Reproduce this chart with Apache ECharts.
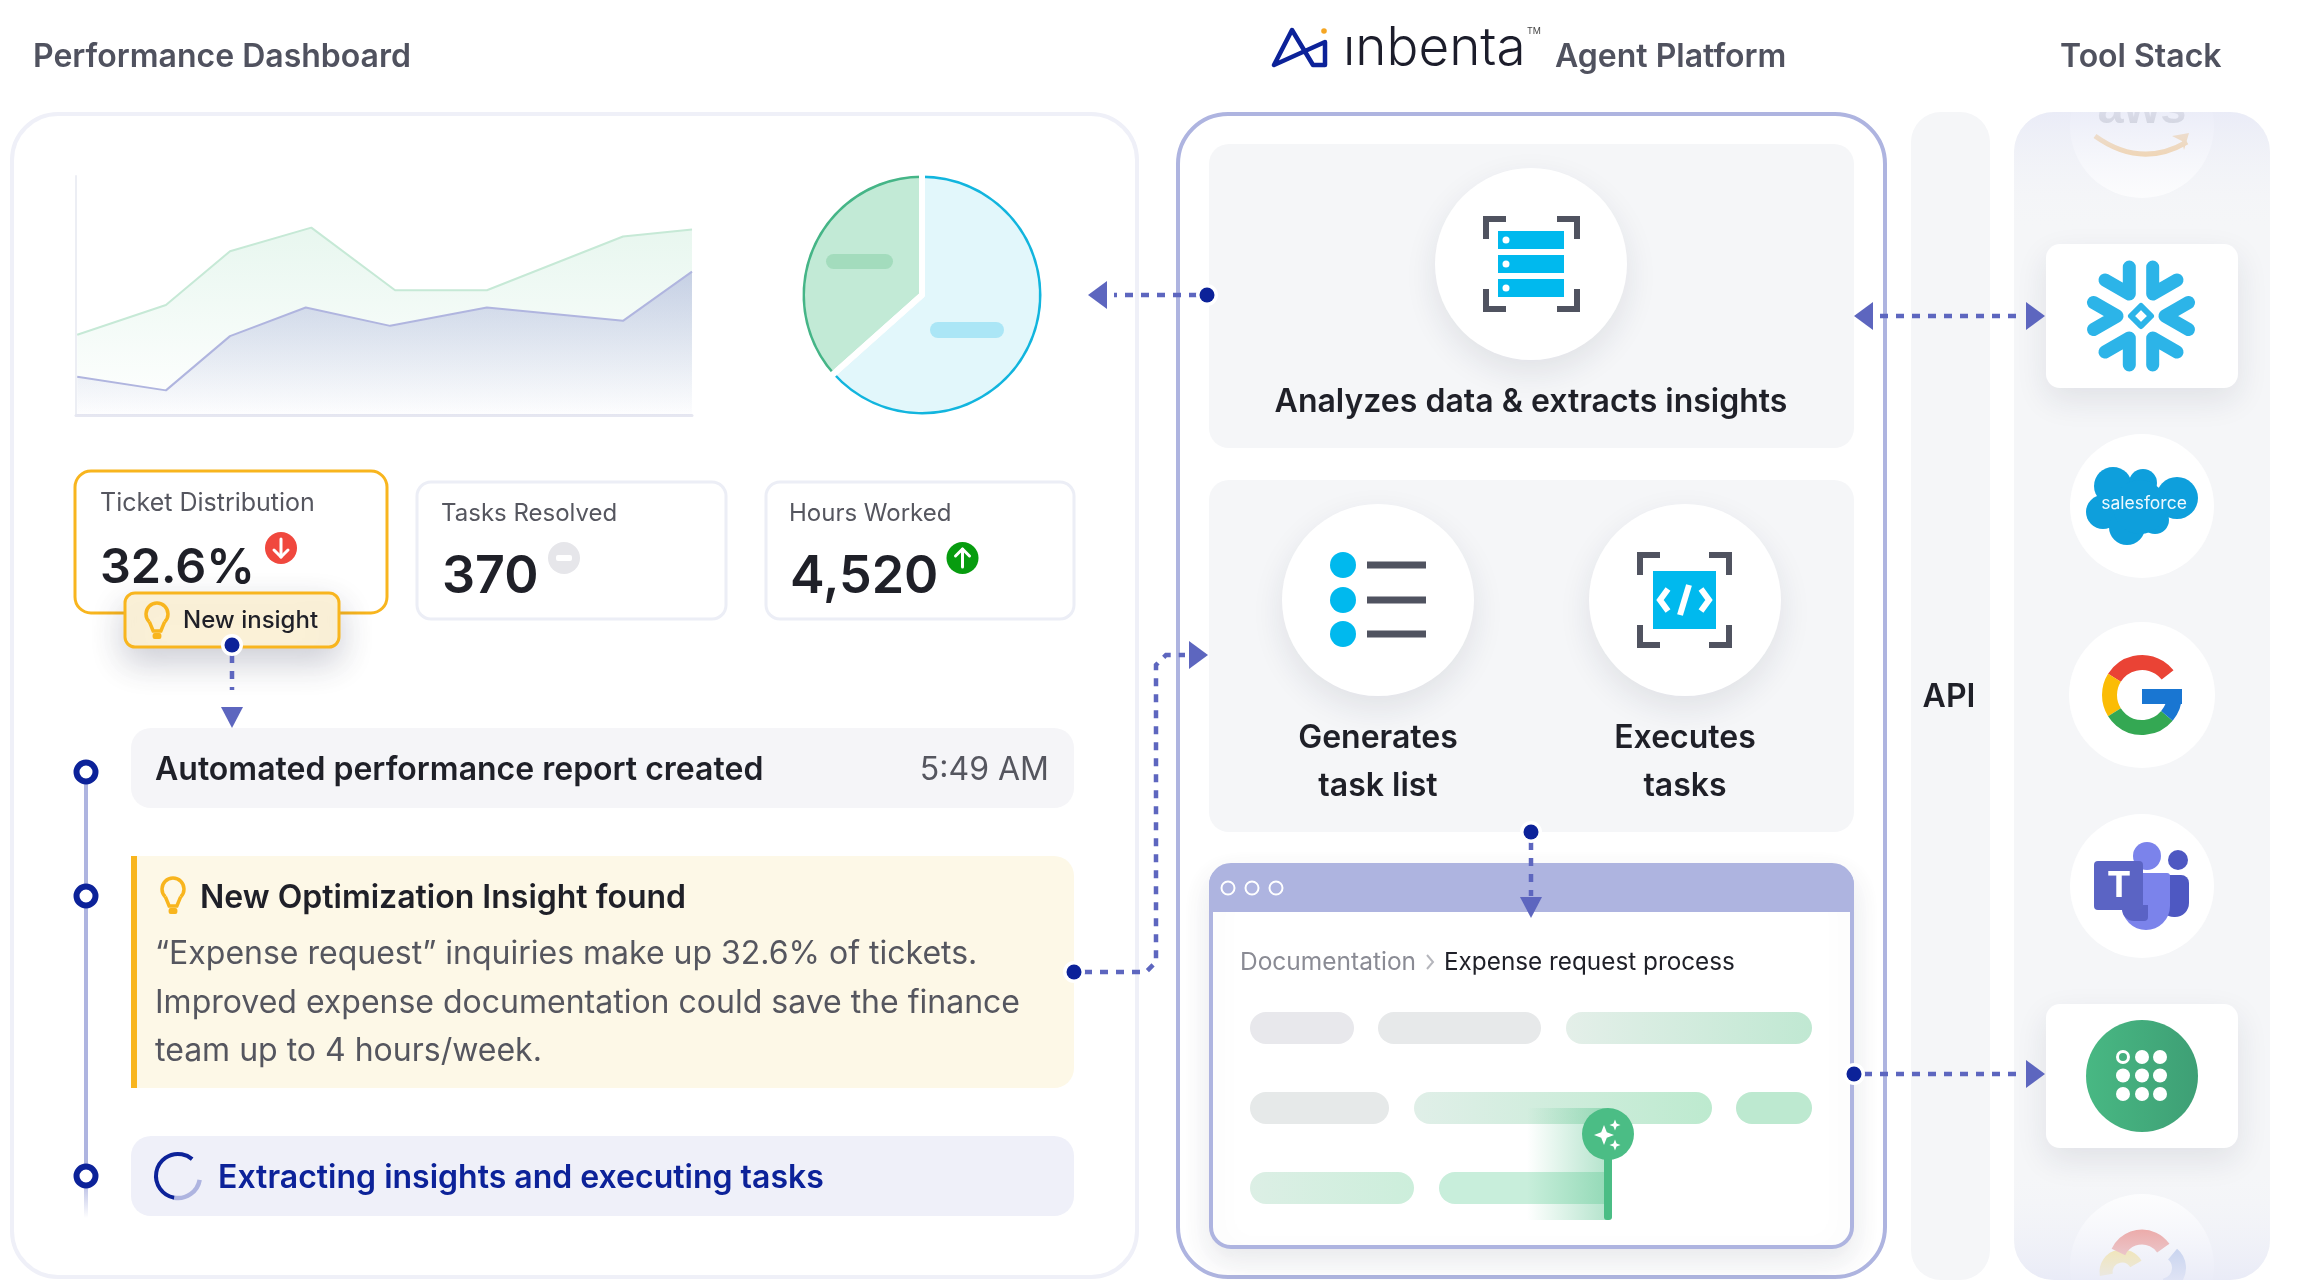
<!DOCTYPE html>
<html><head><meta charset="utf-8">
<style>html,body{margin:0;padding:0;background:#fff}#c{width:2304px;height:1280px}</style>
<script src="https://cdn.jsdelivr.net/npm/echarts@6/dist/echarts.min.js"></script>
</head><body><div id="c"></div>
<script>
// ---- data ----
const areaGreenX = [0.2, 14.6, 25, 38.2, 51.8, 66.7, 88.8, 100];
const areaGreenY = [33.6, 46, 68.5, 78.4, 52.2, 52.2, 74.7, 77.6];
const areaPurpleX = [0.2, 14.6, 25, 37.3, 51, 66.7, 88.8, 100];
const areaPurpleY = [16, 10.3, 33, 45, 37.3, 45, 39.4, 60];
const pieShares = [63.4, 36.6];
const statLabels = ['Ticket Distribution', 'Tasks Resolved', 'Hours Worked'];
const statValues = ['32.6%', '370', '4,520'];
const insightLines = ['\u201CExpense request\u201D inquiries make up 32.6% of tickets.',
  'Improved expense documentation could save the finance', 'team up to 4 hours/week.'];

const NAVY='#0c2299', DASH='#5d66bf', LAV='#aeb4e0', INK='#1f2028', GREY='#55565f', PANEL='#f5f6f8', AMBER='#f8b51e', SKY='#00b9ee', STEEL='#505360', MINT='#4bbd85';
const els=[];
function add(e){e.silent=true; if(e.z===undefined) e.z=3+els.length; els.push(e); return e;}
function rect(x,y,w,h,r,fill,extra){return add({type:'rect',shape:{x,y,width:w,height:h,r},style:Object.assign({fill},extra||{})});}
function circ(cx,cy,r,fill,extra){return add({type:'circle',shape:{cx,cy,r},style:Object.assign({fill},extra||{})});}
function poly(points,stroke,w,extra){return add({type:'polyline',shape:{points},style:Object.assign({fill:'none',stroke,lineWidth:w},extra||{})});}
function gon(points,fill,extra){return add({type:'polygon',shape:{points},style:Object.assign({fill},extra||{})});}
function arc(cx,cy,r,a,b,stroke,w,extra){return add({type:'arc',shape:{cx,cy,r,startAngle:a*Math.PI/180,endAngle:b*Math.PI/180,clockwise:true},style:Object.assign({fill:'none',stroke,lineWidth:w},extra||{})});}
function txt(text,x,y,size,weight,fill,align,family,extra){return add({type:'text',style:Object.assign({text,x,y:y+2.5,fontSize:size,fontWeight:weight,fill,align:align||'left',verticalAlign:'middle',fontFamily:family||'Inter'},extra||{})});}
const hgrad=(a,b)=>({type:'linear',x:0,y:0,x2:1,y2:0,colorStops:[{offset:0,color:a},{offset:1,color:b}]});
const vgrad=(a,b)=>({type:'linear',x:0,y:0,x2:0,y2:1,colorStops:[{offset:0,color:a},{offset:1,color:b}]});
const softShadow={shadowBlur:32,shadowColor:'rgba(30,35,70,0.10)',shadowOffsetY:12};
function dot(x,y){circ(x,y,11,'#fff');circ(x,y,7.5,NAVY);}
function dashLine(points){poly(points,DASH,4.5,{lineDash:[8,8]});}
function arrowL(x,y){gon([[x,y],[x+19,y-14],[x+19,y+14]],DASH);}
function arrowR(x,y){gon([[x,y],[x-19,y-14],[x-19,y+14]],DASH);}
function arrowD(x,y){gon([[x,y],[x-11,y-21],[x+11,y-21]],DASH);}
function bulb(cx,cy,s,c){
  arc(cx,cy-3,s,135,45,c,3.5);
  poly([[cx-s*0.7,cy-3+s*0.7],[cx-s*0.35,cy+s+3],[cx+s*0.35,cy+s+3],[cx+s*0.7,cy-3+s*0.7]],c,3.5);
  rect(cx-s*0.4,cy+s+5,s*0.8,6,2,c);
}
function corners(x0,y0,x1,y1,len,w,c){
  poly([[x0,y0+len],[x0,y0],[x0+len,y0]],c,w,{lineJoin:'miter'});
  poly([[x1-len,y0],[x1,y0],[x1,y0+len]],c,w,{lineJoin:'miter'});
  poly([[x0,y1-len],[x0,y1],[x0+len,y1]],c,w,{lineJoin:'miter'});
  poly([[x1-len,y1],[x1,y1],[x1,y1-len]],c,w,{lineJoin:'miter'});
}

// ---- left panel ----
add({type:'rect',z:0,shape:{x:12,y:114,width:1125,height:1163,r:46},style:{fill:'#fff',stroke:'#eff0f8',lineWidth:4}});
rect(826,254,67,15,7.5,'#a3dcbd');
rect(930,322,74,16,8,'#abe6f6');

// stat cards
rect(75,471,312,142,16,'#fff',{stroke:AMBER,lineWidth:3});
rect(417,482,309,137,14,'#fff',{stroke:'#eceef6',lineWidth:3});
rect(766,482,308,137,14,'#fff',{stroke:'#eceef6',lineWidth:3});
txt(statLabels[0],100,501,25,400,GREY);
txt(statLabels[1],441,511,24,400,GREY);
txt(statLabels[2],789,511,24,400,GREY);
txt(statValues[0],100,566,48.5,600,INK);
txt(statValues[1],442,575,52,600,INK);
txt(statValues[2],790,575,52,600,INK);
// change badges
circ(281,548,16,'#f0483e');
poly([[281,539],[281,557]],'#fff',3,{lineCap:'round'});poly([[274,550],[281,557],[288,550]],'#fff',3,{lineCap:'round',lineJoin:'round'});
circ(564,558,16,'#e6e6ea');rect(556,555,16,6,2,'#fff');
circ(962.5,558,16,'#079c0f');
poly([[962.5,549],[962.5,567]],'#fff',3,{lineCap:'round'});poly([[955.5,556],[962.5,549],[969.5,556]],'#fff',3,{lineCap:'round',lineJoin:'round'});
// new insight tag
rect(125,593,214,54,10,'#fdf3d9',{stroke:AMBER,lineWidth:3,shadowBlur:34,shadowColor:'rgba(30,35,70,0.22)',shadowOffsetY:14});
bulb(157,617,11,AMBER);
txt('New insight',183,618,24,500,INK);
dashLine([[232,655],[232,690]]);arrowD(232,728);
dot(232,645);

// timeline
add({type:'rect',shape:{x:84,y:783,width:4,height:395},style:{fill:LAV}});
add({type:'rect',shape:{x:84,y:1178,width:4,height:40},style:{fill:vgrad(LAV,'rgba(174,180,224,0)')}});
[772,896,1176].forEach(y=>{circ(86,y,9.5,'#fff',{stroke:NAVY,lineWidth:6});});
rect(131,728,943,80,20,'#f5f5f8');
txt('Automated performance report created',155,768,32,600,INK);
txt('5:49 AM',1049,768,32,400,GREY,'right');
rect(131,856,943,232,[0,20,20,0],'#fdf8e7');
rect(131,856,6,232,0,AMBER);
bulb(173,892,11,AMBER);
txt('New Optimization Insight found',200,896,32,600,INK);
insightLines.forEach((l,i)=>txt(l,155,952+i*48.5,32,400,GREY));
rect(131,1136,943,80,20,'#eff0f9');
arc(178,1176,22,10,100,LAV,4.5);
arc(178,1176,22,100,310,NAVY,4);
txt('Extracting insights and executing tasks',218,1176,32,600,NAVY);

// ---- middle panel ----
rect(1178,114,707,1163,50,'#fff',{stroke:LAV,lineWidth:4});
// api + tool columns
rect(1911,112,79,1168,30,PANEL);
rect(2014,112,256,1168,40,PANEL);
txt('API',1949,695,32,600,INK,'center');

rect(1209,144,645,304,20,PANEL);
circ(1531,264,96,'#fff',softShadow);
corners(1486,219,1577,309,20,6,STEEL);
[231,255,279].forEach(y=>{rect(1498,y,66,18,0,SKY);circ(1506,y+9,3.5,'#fff');});
txt('Analyzes data & extracts insights',1531,400,32,600,INK,'center');

rect(1209,480,645,352,20,PANEL);
circ(1378,600,96,'#fff',softShadow);
circ(1685,600,96,'#fff',softShadow);
[565,600,634].forEach(y=>{circ(1343,y,13,SKY);rect(1367,y-3.5,59,7,0,STEEL);});
corners(1640,555,1729,645,20,6,STEEL);
rect(1653,571,63,58,0,SKY);
poly([[1668,589],[1660,600],[1668,611]],'#fff',6,{lineJoin:'miter'});
poly([[1701,589],[1709,600],[1701,611]],'#fff',6,{lineJoin:'miter'});
poly([[1689,585],[1680,615]],'#fff',6);
txt('Generates',1378,736,32,600,INK,'center');
txt('task list',1378,784,32,600,INK,'center');
txt('Executes',1685,736,32,600,INK,'center');
txt('tasks',1685,784,32,600,INK,'center');

// doc window
rect(1211,865,641,382,20,'#fff',{stroke:LAV,lineWidth:4,shadowBlur:30,shadowColor:'rgba(30,35,70,0.10)',shadowOffsetY:12});
rect(1209,865,645,47,[20,20,0,0],LAV);
[1228,1252,1276].forEach(x=>circ(x,888,6.5,'none',{stroke:'#fff',lineWidth:2}));
txt('Documentation',1240,960,24.5,400,'#8a8b94');
poly([[1427,955],[1433,962],[1427,969]],'#b5b6bc',2);
txt('Expense request process',1444,960,24.3,400,INK);
rect(1250,1012,104,32,16,'#e8e8ec');
rect(1378,1012,163,32,16,'#e7e9ea');
rect(1566,1012,246,32,16,hgrad('#e4efe9','#c0e8d2'));
rect(1250,1092,139,32,16,'#e6e9e9');
rect(1414,1092,298,32,16,hgrad('#e0efe8','#bdeacf'));
rect(1736,1092,76,32,16,'#bde9d0');
rect(1250,1172,164,32,16,hgrad('#dcefe5','#cceedb'));
rect(1439,1172,170,32,[16,0,0,16],'#c8eedb');
rect(1527,1108,81,112,0,hgrad('rgba(75,189,133,0)','rgba(75,189,133,0.42)'));
rect(1604,1150,8,70,3,MINT);
circ(1608,1134,26,MINT);
function spark(cx,cy,s){gon([[cx,cy-s],[cx+s*0.28,cy-s*0.28],[cx+s,cy],[cx+s*0.28,cy+s*0.28],[cx,cy+s],[cx-s*0.28,cy+s*0.28],[cx-s,cy],[cx-s*0.28,cy-s*0.28]],'#fff');}
spark(1604,1135,10);spark(1615,1125,5.5);spark(1615,1145,5.5);

// ---- tools ----
// aws
circ(2142,126,72,'#fff');
txt('aws',2142,108,47,700,'#8b8e98','center','Liberation Sans');
add({type:'bezierCurve',shape:{x1:2095,y1:136,x2:2187,y2:142,cpx1:2141,cpy1:169},style:{fill:'none',stroke:'#f2b96c',lineWidth:5}});
gon([[2172,136],[2189,133],[2184,150],[2182,141]],'#f2b96c');
rect(2040,40,210,72,0,'#fff');
rect(2014,112,256,120,[40,40,0,0],vgrad('rgba(232,234,247,0.85)','rgba(245,246,248,0)'));
// snowflake
rect(2046,244,192,144,14,'#fff',softShadow);
const SNOW='#2cb4e8', SX=2141, SY=316;
const P=(dx,dy)=>[SX+dx,SY+dy];
[[1,1],[-1,1],[1,-1],[-1,-1]].forEach(s=>{
  poly([P(s[0]*11.7,s[1]*49),P(s[0]*11.7,s[1]*22),P(s[0]*36,s[1]*36)],SNOW,13,{lineCap:'round',lineJoin:'round'});
});
[-1,1].forEach(s=>{
  poly([P(s*47.5,-13.5),P(s*24,0),P(s*47.5,13.5)],SNOW,13,{lineCap:'round',lineJoin:'round'});
});
gon([P(0,-10),P(10,0),P(0,10),P(-10,0)],'#fff',{stroke:SNOW,lineWidth:6,lineJoin:'round'});
// salesforce
circ(2142,506,72,'#fff');
[[2113,486,19],[2143,483,14],[2177,498,21],[2103,512,17],[2127,527,18],[2155,520,14],[2140,507,27]].forEach(c=>circ(c[0],c[1],c[2],'#0e9fdc'));
txt('salesforce',2144,501,17.5,400,'#eef9ff','center','Inter');
// google
circ(2142,695,73,'#fff');
arc(2142,695,32.5,-148,-38,'#ea4335',15);
arc(2142,695,32.5,148,212,'#fbbc05',15);
arc(2142,695,32.5,40,148,'#34a853',15);
arc(2142,695,32.5,0,40,'#1976d2',15);
rect(2142,689,40,15,0,'#1976d2');
// teams
circ(2142,886,72,'#fff');
circ(2178,860,10,'#4e58c2');
rect(2160,875,29,42,[3,8,14,14],'#4e58c2');
circ(2147,856,14,'#7b83eb');
rect(2122,873,48,57,[3,3,24,24],'#7b83eb');
rect(2122,905,26,16,[0,0,4,12],'#5a62c5');
rect(2094,861,49,49,4,'#5b64c4');
txt('T',2119,884,36,700,'#fff','center');
// green app
rect(2046,1004,192,144,14,'#fff',softShadow);
circ(2142,1076,56,hgrad('#48b883','#3e9f75'));
[2123,2142,2160].forEach((x,i)=>[1057,1075.5,1094].forEach((y,j)=>{
  if(i===0&&j===0) circ(x,y,5.5,'none',{stroke:'#fff',lineWidth:3}); else circ(x,y,7,'#fff');
}));
// gcloud
circ(2142,1266,72,'#fff');
arc(2161,1268,18,-50,80,'#8aa6e0',14);
arc(2122,1272,16,170,330,'#f9d648',13);
arc(2142,1263,26,205,325,'#ea6a60',15);
rect(2014,1170,256,110,[0,0,40,40],vgrad('rgba(245,246,248,0)','rgba(232,234,247,0.9)'));

// ---- connectors ----
dashLine([[1197,295],[1114,295]]);arrowL(1088,295);dot(1207,295);
dashLine([[1880,316],[2020,316]]);arrowL(1854,316);arrowR(2045,316);
poly([[1084,972],[1146,972],[1156,962],[1156,665],[1166,655],[1185,655]],DASH,4.5,{lineDash:[8,8]});
arrowR(1208,655);dot(1074,972);
dashLine([[1531,842],[1531,896]]);arrowD(1531,918);dot(1531,832);
dashLine([[1864,1074],[2022,1074]]);arrowR(2045,1074);dot(1854,1074);

// ---- headers (above the column caps) ----
const HEAD='#50525f';
txt('Performance Dashboard',33,55,32,600,HEAD);
poly([[1274,65],[1292,30],[1313,65],[1325,65],[1325,42],[1274,65]],NAVY,4.5,{lineJoin:'round',lineCap:'round'});
circ(1324,31,2.8,'#f5a623');
txt('inbenta',1343,47,53,300,'#1c1d2b');
rect(1343,22,13,15,0,'#fff');
txt('TM',1527,29,9,400,'#444');
txt('Agent Platform',1555,55,32,600,HEAD);
txt('Tool Stack',2060,55,32,600,HEAD);

const toPairs=(xs,ys)=>xs.map((x,i)=>[x,ys[i]]);
const chart=echarts.init(document.getElementById('c'),null,{renderer:'canvas'});
chart.setOption({
  animation:false,
  tooltip:{show:false},
  legend:{show:false},
  grid:{left:76,top:176,width:616,height:239,containLabel:false},
  xAxis:{type:'value',min:0,max:100,axisLabel:{show:false},axisTick:{show:false},splitLine:{show:false},axisLine:{show:true,onZero:false,lineStyle:{color:'#e6e7f1',width:3}}},
  yAxis:{type:'value',min:0,max:100,axisLabel:{show:false},axisTick:{show:false},splitLine:{show:false},axisLine:{show:true,onZero:false,lineStyle:{color:'#eceef4',width:2}}},
  series:[
    {type:'line',name:'Upper',data:toPairs(areaGreenX,areaGreenY),symbol:'none',silent:true,lineStyle:{color:'#c6e9d6',width:2},
     areaStyle:{color:vgrad('rgba(90,195,140,0.20)','rgba(90,195,140,0)')},z:2},
    {type:'line',name:'Lower',data:toPairs(areaPurpleX,areaPurpleY),symbol:'none',silent:true,lineStyle:{color:'#b0b5df',width:2},
     areaStyle:{color:vgrad('rgba(120,128,200,0.48)','rgba(120,128,200,0.02)')},z:2},
    {type:'pie',center:[922,295],radius:[0,119],startAngle:90,silent:true,label:{show:false},labelLine:{show:false},z:2,
     data:[{value:pieShares[0],itemStyle:{color:'#e2f7fb'}},{value:pieShares[1],itemStyle:{color:'#c2ead6'}}]},
    {type:'pie',center:[922,295],radius:[117,119.5],startAngle:90,silent:true,label:{show:false},labelLine:{show:false},z:2,
     data:[{value:pieShares[0],itemStyle:{color:'#12b5de'}},{value:pieShares[1],itemStyle:{color:'#45b587'}}]},
    {type:'pie',center:[922,295],radius:[0,124],startAngle:90,silent:true,label:{show:false},labelLine:{show:false},z:2,
     data:pieShares.map(v=>({value:v,itemStyle:{color:'rgba(0,0,0,0)',borderColor:'#fff',borderWidth:6}}))}
  ],
  graphic:{elements:els}
});
</script></body></html>
